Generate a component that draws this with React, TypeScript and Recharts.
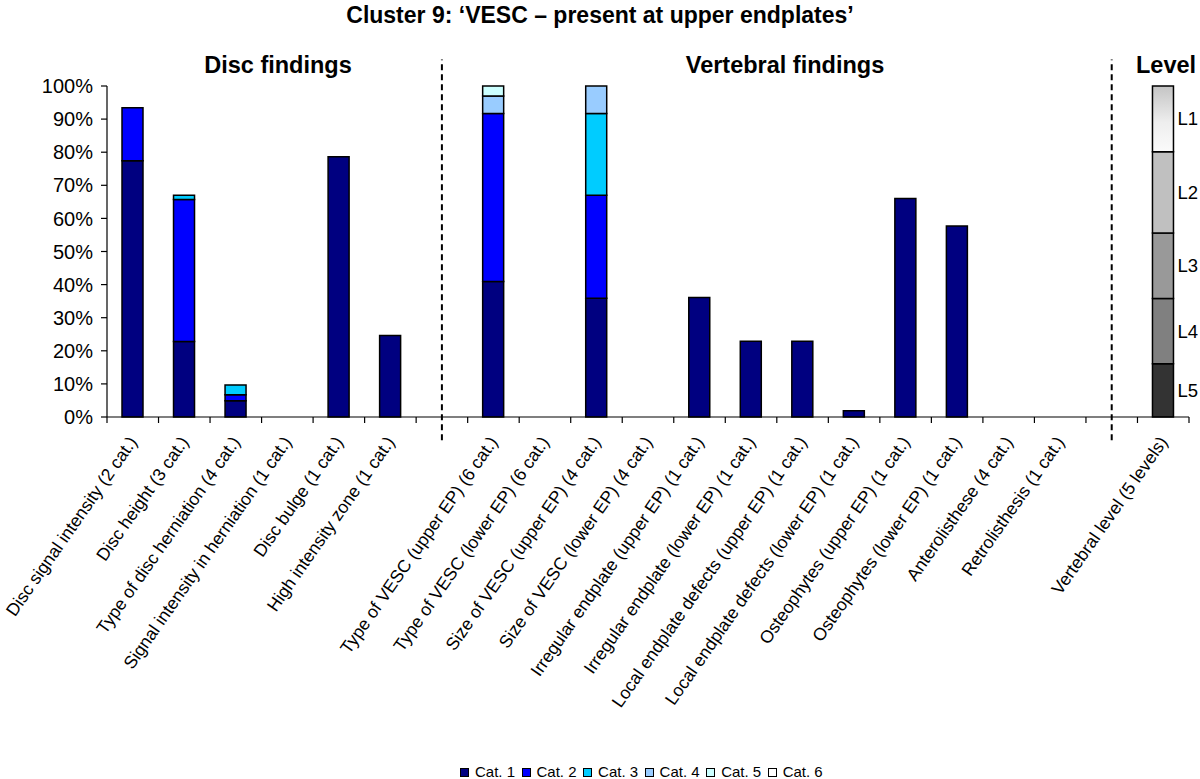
import React from 'react';
import { BarChart, Bar, XAxis, YAxis, ReferenceLine, LabelList } from 'recharts';

const chartTitle = 'Cluster 9: \u2018VESC \u2013 present at upper endplates\u2019';

const categories = [
  'Disc signal intensity (2 cat.)',
  'Disc height (3 cat.)',
  'Type of disc herniation (4 cat.)',
  'Signal intensity in herniation (1 cat.)',
  'Disc bulge (1 cat.)',
  'High intensity zone (1 cat.)',
  'gap-disc',
  'Type of VESC (upper EP) (6 cat.)',
  'Type of VESC (lower EP) (6 cat.)',
  'Size of VESC (upper EP) (4 cat.)',
  'Size of VESC (lower EP) (4 cat.)',
  'Irregular endplate (upper EP) (1 cat.)',
  'Irregular endplate (lower EP) (1 cat.)',
  'Local endplate defects (upper EP) (1 cat.)',
  'Local endplate defects (lower EP) (1 cat.)',
  'Osteophytes (upper EP) (1 cat.)',
  'Osteophytes (lower EP) (1 cat.)',
  'Anterolisthese (4 cat.)',
  'Retrolisthesis (1 cat.)',
  'gap-level',
  'Vertebral level (5 levels)',
];
const gapKeys = ['gap-disc', 'gap-level'];
const levelCategory = 'Vertebral level (5 levels)';

const cat1 = [77.4, 22.8, 4.9, 0, 78.6, 24.6, 0, 40.9, 0, 35.9, 0, 36.1, 22.9, 22.9, 1.9, 66.0, 57.7, 0, 0, 0, 0];
const cat2 = [16.0, 42.9, 1.8, 0, 0, 0, 0, 50.8, 0, 31.1, 0, 0, 0, 0, 0, 0, 0, 0, 0, 0, 0];
const cat3 = [0, 1.3, 3.0, 0, 0, 0, 0, 0, 0, 24.7, 0, 0, 0, 0, 0, 0, 0, 0, 0, 0, 0];
const cat4 = [0, 0, 0, 0, 0, 0, 0, 5.3, 0, 8.3, 0, 0, 0, 0, 0, 0, 0, 0, 0, 0, 0];
const cat5 = [0, 0, 0, 0, 0, 0, 0, 3.0, 0, 0, 0, 0, 0, 0, 0, 0, 0, 0, 0, 0, 0];
const cat6 = [0, 0, 0, 0, 0, 0, 0, 0, 0, 0, 0, 0, 0, 0, 0, 0, 0, 0, 0, 0, 0];
const catSeries = [cat1, cat2, cat3, cat4, cat5, cat6];
const catNames = ['Cat. 1', 'Cat. 2', 'Cat. 3', 'Cat. 4', 'Cat. 5', 'Cat. 6'];
const catColors = ['#000080', '#0000FF', '#00CCFF', '#99CCFF', '#CCFFFF', '#FFFFFF'];

const levelNames = ['L5', 'L4', 'L3', 'L2', 'L1'];
const levelShares = [16.1, 19.7, 19.8, 24.5, 19.9];
const levelColors = ['#333333', '#808080', '#999999', '#C0C0C0', 'url(#levelL1Gradient)'];

const yTicks = [0, 10, 20, 30, 40, 50, 60, 70, 80, 90, 100];

const sectionHeaders = [
  { text: 'Disc findings', center: 278 },
  { text: 'Vertebral findings', center: 785 },
  { text: 'Level', center: 1166 },
];

const data = categories.map((name, i) => {
  const row: Record<string, any> = { name };
  catSeries.forEach((s, j) => {
    row['c' + j] = s[i];
  });
  levelShares.forEach((v, j) => {
    row['l' + j] = name === levelCategory ? v : 0;
  });
  return row;
});

const FONT = '"Liberation Sans", Arial, Helvetica, sans-serif';

const CategoryTick = (props: any) => {
  const { x, y, payload, index } = props;
  const half = payload.offset || 0;
  const label = gapKeys.includes(payload.value) ? '' : payload.value;
  const tx = x + 5;
  const ty = y + 25;
  return (
    <g>
      <line x1={x - half} x2={x - half} y1={y} y2={y + 6} stroke="#000" strokeWidth={1.2} />
      {index === categories.length - 1 && (
        <line x1={x + half} x2={x + half} y1={y} y2={y + 6} stroke="#000" strokeWidth={1.2} />
      )}
      {label && (
        <text
          x={tx}
          y={ty}
          transform={`rotate(-55 ${tx} ${ty})`}
          textAnchor="end"
          fontSize={17.6}
          fill="#000"
          fontFamily={FONT}
        >
          {label}
        </text>
      )}
    </g>
  );
};

const makeLevelLabel = (j: number) => (p: any) => {
  if (!p.value) return null;
  return (
    <text
      x={p.x + p.width + 4}
      y={p.y + p.height / 2}
      dominantBaseline="central"
      fontSize={18.5}
      fill="#000"
      fontFamily={FONT}
    >
      {levelNames[j]}
    </text>
  );
};

export default function App() {
  return (
    <div style={{ position: 'absolute', left: 0, top: 0, width: 1200, height: 779, background: '#fff', fontFamily: FONT }}>
      <div
        style={{
          position: 'absolute',
          left: 0,
          top: 2,
          width: 1200,
          textAlign: 'center',
          fontWeight: 'bold',
          fontSize: 23,
        }}
      >
        {chartTitle}
      </div>
      {sectionHeaders.map((h) => (
        <div
          key={h.text}
          style={{
            position: 'absolute',
            left: h.center - 150,
            width: 300,
            top: 52,
            textAlign: 'center',
            fontWeight: 'bold',
            fontSize: 23.5,
          }}
        >
          {h.text}
        </div>
      ))}
      <div style={{ position: 'absolute', left: 0, top: 0 }}>
        <BarChart
          width={1200}
          height={779}
          data={data}
          margin={{ top: 86, right: 11, bottom: 62, left: 0 }}
        >
          <defs>
            <linearGradient id="levelL1Gradient" x1="0" y1="0" x2="0" y2="1">
              <stop offset="0%" stopColor="#c4c4c4" />
              <stop offset="55%" stopColor="#eeeeee" />
              <stop offset="100%" stopColor="#fbfbfb" />
            </linearGradient>
          </defs>
          <XAxis
            dataKey="name"
            interval={0}
            height={300}
            tickLine={false}
            tickSize={0}
            tickMargin={0}
            axisLine={{ stroke: '#000', strokeWidth: 1.2 }}
            tick={<CategoryTick />}
          />
          <YAxis
            width={107}
            domain={[0, 100]}
            ticks={yTicks}
            interval={0}
            tickFormatter={(v: number) => `${v}%`}
            tick={{ fontSize: 20, fill: '#000' }}
            tickSize={6}
            tickMargin={8}
            axisLine={{ stroke: '#000', strokeWidth: 1.2 }}
            tickLine={{ stroke: '#000', strokeWidth: 1.2 }}
          />
          {catSeries.map((_, j) => (
            <Bar
              key={'c' + j}
              dataKey={'c' + j}
              name={catNames[j]}
              stackId="a"
              fill={catColors[j]}
              stroke="#000"
              strokeWidth={1.5}
              barSize={21}
              isAnimationActive={false}
            />
          ))}
          {levelShares.map((_, j) => (
            <Bar
              key={'l' + j}
              dataKey={'l' + j}
              name={levelNames[j]}
              stackId="a"
              fill={levelColors[j]}
              stroke="#000"
              strokeWidth={1.5}
              barSize={21}
              legendType="none"
              isAnimationActive={false}
            >
              <LabelList dataKey={'l' + j} content={makeLevelLabel(j)} />
            </Bar>
          ))}
          {gapKeys.map((g) => (
            <ReferenceLine
              key={g}
              segment={[{ x: g, y: -7 }, { x: g, y: 108 }]}
              stroke="#000"
              strokeWidth={2}
              strokeDasharray="6 4"
              ifOverflow="visible"
            />
          ))}
        </BarChart>
      </div>
      <div
        style={{
          position: 'absolute',
          left: 460,
          top: 764,
          display: 'flex',
          fontSize: 15,
          lineHeight: '16px',
        }}
      >
        {catNames.map((n, j) => (
          <div key={n} style={{ display: 'flex', alignItems: 'center', marginRight: 6.5 }}>
            <span
              style={{
                display: 'inline-block',
                width: 7,
                height: 7,
                border: '1.5px solid #000',
                background: catColors[j],
                marginRight: 6,
              }}
            />
            <span>{n}</span>
          </div>
        ))}
      </div>
    </div>
  );
}
